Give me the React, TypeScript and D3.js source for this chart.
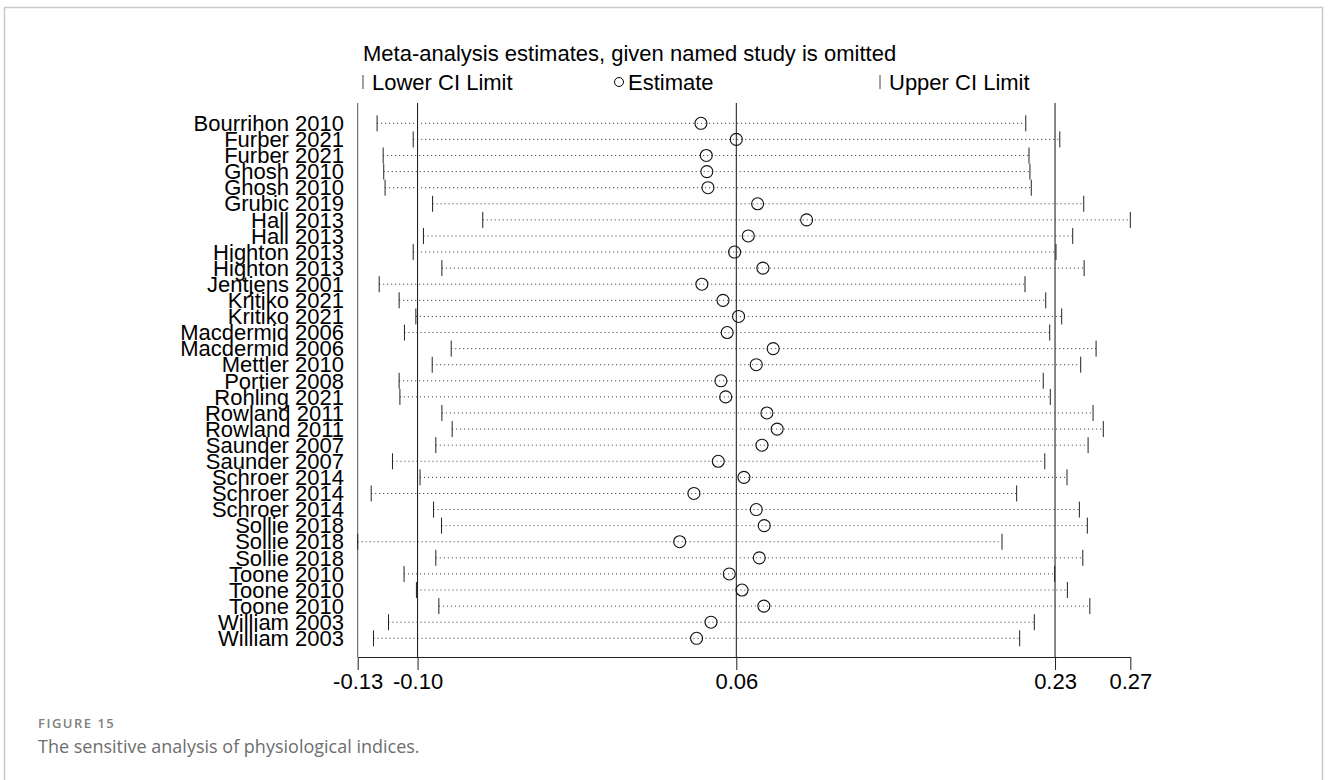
import { useRef, useEffect } from 'react';
import * as d3 from 'd3';

// studies in plotted order (top to bottom)
const studies = [
  'Bourrihon 2010', 'Furber 2021', 'Furber 2021', 'Ghosh 2010', 'Ghosh 2010',
  'Grubic 2019', 'Hall 2013', 'Hall 2013', 'Highton 2013', 'Highton 2013',
  'Jentjens 2001', 'Kritiko 2021', 'Kritiko 2021', 'Macdermid 2006', 'Macdermid 2006',
  'Mettler 2010', 'Portier 2008', 'Rohling 2021', 'Rowland 2011', 'Rowland 2011',
  'Saunder 2007', 'Saunder 2007', 'Schroer 2014', 'Schroer 2014', 'Schroer 2014',
  'Sollie 2018', 'Sollie 2018', 'Sollie 2018', 'Toone 2010', 'Toone 2010',
  'Toone 2010', 'William 2003', 'William 2003',
];

const lowerCI = [
  -0.1242, -0.1052, -0.121, -0.1207, -0.12,
  -0.095, -0.0686, -0.0998, -0.1052, -0.0901,
  -0.1231, -0.1126, -0.1038, -0.1098, -0.0852,
  -0.0952, -0.1126, -0.1122, -0.0901, -0.0847,
  -0.0933, -0.1161, -0.1016, -0.1273, -0.0945,
  -0.0903, -0.1344, -0.0933, -0.11, -0.1035,
  -0.0917, -0.1182, -0.1261,
];

const estimates = [
  0.0462, 0.0648, 0.049, 0.0493, 0.0499,
  0.076, 0.1018, 0.0711, 0.0639, 0.0788,
  0.0467, 0.0578, 0.066, 0.06, 0.0842,
  0.0753, 0.0567, 0.0592, 0.0809, 0.0863,
  0.0783, 0.0553, 0.0688, 0.0425, 0.0753,
  0.0795, 0.035, 0.0769, 0.0611, 0.0678,
  0.0793, 0.0515, 0.0439,
];

const upperCI = [
  0.2171, 0.235, 0.2188, 0.2193, 0.22,
  0.2476, 0.2721, 0.2418, 0.233, 0.2478,
  0.2167, 0.2276, 0.236, 0.2297, 0.2541,
  0.246, 0.2263, 0.23, 0.2525, 0.2579,
  0.2499, 0.2271, 0.2388, 0.2123, 0.2453,
  0.2495, 0.2046, 0.2471, 0.2323, 0.239,
  0.2508, 0.2216, 0.2139,
];

// combined estimate with all studies: lower, estimate, upper
const overall = [-0.1029, 0.0648, 0.2325];

const legendItems = ['Lower CI Limit', 'Estimate', 'Upper CI Limit'];

export default function App() {
  const svgRef = useRef<SVGSVGElement>(null);

  useEffect(() => {
    const W = 1328;
    const H = 780;
    const font = '"Liberation Sans", Arial, sans-serif';
    const svg = d3.select(svgRef.current);
    svg.selectAll('*').remove();
    svg.attr('width', W).attr('height', H).style('font-family', font);

    // figure frame
    svg
      .append('rect')
      .attr('x', 4.5)
      .attr('y', 7.5)
      .attr('width', 1318)
      .attr('height', 820)
      .attr('fill', 'white')
      .attr('stroke', '#c9c9c9')
      .attr('stroke-width', 1.5);

    const xMin = d3.min(lowerCI) as number;
    const xMax = d3.max(upperCI) as number;
    const x = d3.scaleLinear().domain([xMin, xMax]).range([357.7, 1130.3]);
    const y = d3
      .scalePoint<number>()
      .domain(d3.range(studies.length))
      .range([123.3, 638.3]);

    const top = 103;
    const axisY = 657;

    // title + legend
    svg
      .append('text')
      .attr('x', 363)
      .attr('y', 61)
      .attr('font-size', 22)
      .text('Meta-analysis estimates, given named study is omitted');

    const legX = [363, 619, 880];
    legendItems.forEach((t, i) => {
      const g = svg.append('g').attr('transform', `translate(${legX[i]},82)`);
      if (i === 1) {
        g.append('circle').attr('r', 4.5).attr('fill', 'none').attr('stroke', '#000');
      } else {
        g.append('line').attr('y1', -7).attr('y2', 7).attr('stroke', '#444');
      }
      g.append('text').attr('x', 9).attr('y', 7.5).attr('font-size', 22).text(t);
    });

    // y axis line and reference lines for the combined estimate
    svg
      .selectAll('.ref')
      .data([xMin, ...overall])
      .enter()
      .append('line')
      .attr('x1', (d) => x(d))
      .attr('x2', (d) => x(d))
      .attr('y1', top)
      .attr('y2', axisY)
      .attr('stroke', (d, i) => (i === 0 ? '#555' : '#111'))
      .attr('stroke-width', 1);

    // x axis
    const xAxis = d3
      .axisBottom(x)
      .tickValues([xMin, ...overall, xMax])
      .tickFormat((d) => (+d).toFixed(2))
      .tickSizeInner(13)
      .tickSizeOuter(0)
      .tickPadding(3);
    const ax = svg.append('g').attr('transform', `translate(0,${axisY})`).call(xAxis);
    ax.select('.domain').attr('stroke', '#222');
    ax.selectAll('.tick line').attr('stroke', '#222');
    ax.selectAll('.tick text')
      .attr('font-size', 22)
      .attr('font-family', font)
      .attr('fill', '#000');

    // study labels
    svg
      .selectAll('.lab')
      .data(studies)
      .enter()
      .append('text')
      .attr('x', 344)
      .attr('y', (d, i) => (y(i) as number) + 7.7)
      .attr('text-anchor', 'end')
      .attr('font-size', 22)
      .text((d) => d);

    const rows = svg.append('g');
    const idx = d3.range(studies.length);

    // dotted CI lines
    rows
      .selectAll('.ci')
      .data(idx)
      .enter()
      .append('line')
      .attr('x1', (i) => x(lowerCI[i]))
      .attr('x2', (i) => x(upperCI[i]))
      .attr('y1', (i) => y(i) as number)
      .attr('y2', (i) => y(i) as number)
      .attr('stroke', '#333')
      .attr('stroke-dasharray', '1,3');

    // CI limit ticks
    [lowerCI, upperCI].forEach((arr) => {
      rows
        .selectAll(null)
        .data(idx)
        .enter()
        .append('line')
        .attr('x1', (i) => x(arr[i]))
        .attr('x2', (i) => x(arr[i]))
        .attr('y1', (i) => (y(i) as number) - 8)
        .attr('y2', (i) => (y(i) as number) + 8)
        .attr('stroke', '#222');
    });

    // estimates
    rows
      .selectAll('.est')
      .data(idx)
      .enter()
      .append('circle')
      .attr('cx', (i) => x(estimates[i]))
      .attr('cy', (i) => y(i) as number)
      .attr('r', 6)
      .attr('fill', 'none')
      .attr('stroke', '#111')
      .attr('stroke-width', 1.1);

    // caption
    svg
      .append('text')
      .attr('x', 38)
      .attr('y', 728)
      .attr('font-family', '"Open Sans", sans-serif')
      .attr('font-size', 13)
      .attr('font-weight', 600)
      .attr('letter-spacing', 1.5)
      .attr('fill', '#808080')
      .text('FIGURE 15');
    svg
      .append('text')
      .attr('x', 38)
      .attr('y', 753)
      .attr('font-family', '"Open Sans", sans-serif')
      .attr('font-size', 18)
      .attr('fill', '#6e6e6e')
      .text('The sensitive analysis of physiological indices.');
  }, []);

  return (
    <div style={{ position: 'absolute', left: 0, top: 0 }}>
      <svg ref={svgRef} style={{ display: 'block' }}></svg>
    </div>
  );
}
